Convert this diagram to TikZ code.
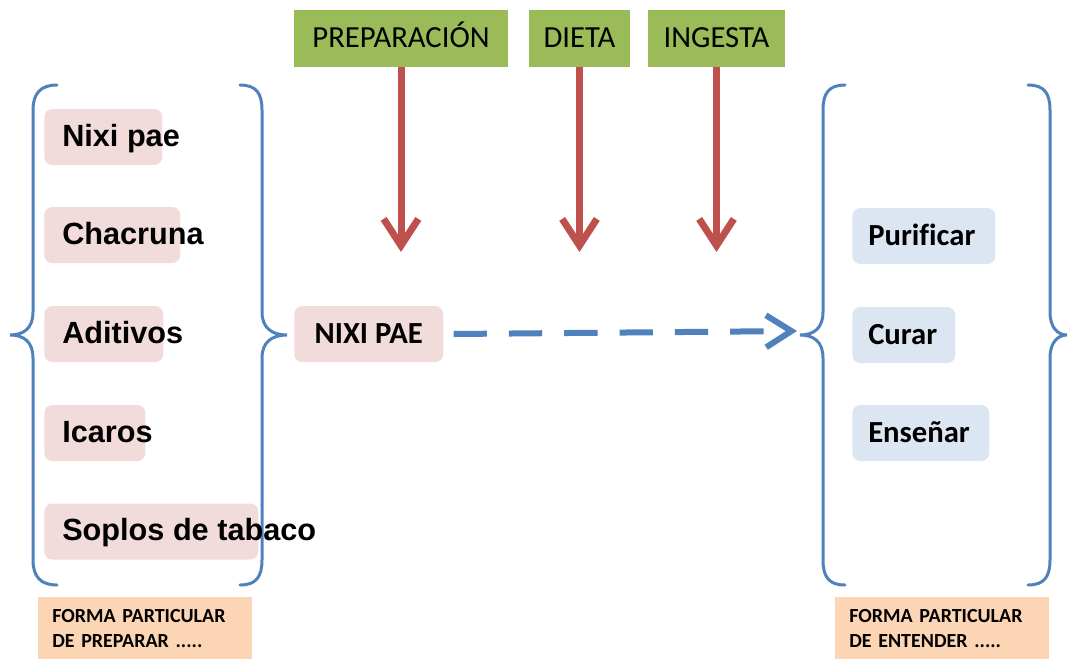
\documentclass[tikz,border=0pt]{standalone}
\usepackage{fontspec}
\setmainfont{Carlito}[Ligatures=NoCommon]
\newfontfamily\arialfont{Liberation Sans}
\usepackage{tikz}
\usetikzlibrary{arrows.meta}
\usetikzlibrary{shapes,positioning}

\definecolor{verde}{HTML}{9BBB59}
\definecolor{rojo}{HTML}{C0504D}
\definecolor{azul}{HTML}{4F81BD}
\definecolor{rosa}{HTML}{F2DCDB}
\definecolor{celeste}{HTML}{DCE6F2}
\definecolor{naranja}{HTML}{FCD5B5}

\tikzset{
    factor/.style={fill=verde, minimum height=42.75pt, inner sep=0pt,
        text height=16pt, text depth=3pt,
        font=\fontsize{23}{27}\selectfont},
    itembox/.style={fill=rosa, rounded corners=6pt, minimum height=42pt,
        inner xsep=13.5pt, inner ysep=0pt, anchor=west,
        text height=17pt, text depth=3pt,
        font=\arialfont\bfseries\fontsize{23}{27}\selectfont},
    finbox/.style={fill=celeste, rounded corners=6pt, minimum height=42pt,
        inner xsep=12pt, inner ysep=0pt, anchor=west,
        text height=17pt, text depth=3pt,
        font=\bfseries\fontsize{23}{27}\selectfont},
    nota/.style={fill=naranja, anchor=north west, minimum width=160.5pt,
        minimum height=46pt, inner xsep=10.5pt, inner ysep=9pt,
        text width=139.5pt, align=left,
        font=\bfseries\fontsize{15}{18.75}\selectfont},
    llave/.style={draw=azul, line width=2.25pt, line cap=round},
    flecha/.style={draw=rojo, line width=5.25pt,
        -{Straight Barb[length=20pt,width=26pt]}},
    flechaazul/.style={draw=azul, line width=4.5pt,
        dash pattern=on 25pt off 16.5pt,
        -{Straight Barb[length=19pt,width=24pt]}},
}

\begin{document}
\begin{tikzpicture}[x=0.75pt, y=-0.75pt]
    \useasboundingbox (0,0) rectangle (1068,658);

    % factores
    \node[factor, minimum width=160.5pt] (prep) at (401,38.5) {PREPARACIÓN};
    \node[factor, minimum width=75.75pt] (dieta) at (579.5,38.5) {DIETA};
    \node[factor, minimum width=102.75pt] (ingesta) at (716.5,38.5) {INGESTA};

    \coordinate (prepfin) at (401,252);
    \coordinate (dietafin) at (579.5,252);
    \coordinate (ingestafin) at (716.5,252);
    \draw[flecha] (prep.south) -- (prepfin);
    \draw[flecha] (dieta.south) -- (dietafin);
    \draw[flecha] (ingesta.south) -- (ingestafin);

    % llave izquierda
    \draw[llave] (57,85) .. controls (41,85) and (33,93) .. (33,110) -- (33,312)
        .. controls (33,328) and (24,335) .. (10,335)
        .. controls (24,335) and (33,342) .. (33,358) -- (33,560)
        .. controls (33,577) and (41,585) .. (57,585);
    \draw[llave] (240,85) .. controls (256,85) and (262,93) .. (262,110) -- (262,312)
        .. controls (262,328) and (272,335) .. (287,335)
        .. controls (272,335) and (262,342) .. (262,358) -- (262,560)
        .. controls (262,577) and (256,585) .. (240,585);

    \node[itembox] (nixi) at (44,137) {\makebox[61.5pt][l]{Nixi pae}};
    \node[itembox] (chacruna) at (44,235) {\makebox[75pt][l]{Chacruna}};
    \node[itembox] (aditivos) at (44,334) {\makebox[62.25pt][l]{Aditivos}};
    \node[itembox] (icaros) at (44,433) {\makebox[48.75pt][l]{Icaros}};
    \node[itembox] (soplos) at (44,531.5) {\makebox[133.5pt][l]{Soplos de tabaco}};

    % planta
    \node[itembox, font=\bfseries\fontsize{23}{27}\selectfont,
        minimum width=111.75pt, inner xsep=12.75pt] (nixipae) at (294,334) {NIXI PAE};

    % llave derecha
    \draw[llave] (845,85) .. controls (829,85) and (823,93) .. (823,110) -- (823,312)
        .. controls (823,328) and (814,335) .. (800,335)
        .. controls (814,335) and (823,342) .. (823,358) -- (823,560)
        .. controls (823,577) and (829,585) .. (845,585);
    \draw[llave] (1028,85) .. controls (1044,85) and (1050,93) .. (1050,110) -- (1050,312)
        .. controls (1050,328) and (1058,335) .. (1067,335)
        .. controls (1058,335) and (1050,342) .. (1050,358) -- (1050,560)
        .. controls (1050,577) and (1044,585) .. (1028,585);

    \coordinate (llavetip) at (797,331);
    \draw[flechaazul] ([xshift=7.5pt]nixipae.east) -- (llavetip);

    \node[finbox] (purificar) at (852,236) {\makebox[83.25pt][l]{Purificar}};
    \node[finbox] (curar) at (852,335) {\makebox[53.25pt][l]{Curar}};
    \node[finbox] (ensenar) at (852,433) {\makebox[78.75pt][l]{Enseñar}};

    % notas
    \node[nota] (notaprep) at (38,597) {FORMA PARTICULAR\\DE PREPARAR .....};
    \node[nota] (notaent) at (835,597) {FORMA PARTICULAR\\DE ENTENDER .....};
\end{tikzpicture}
\end{document}
